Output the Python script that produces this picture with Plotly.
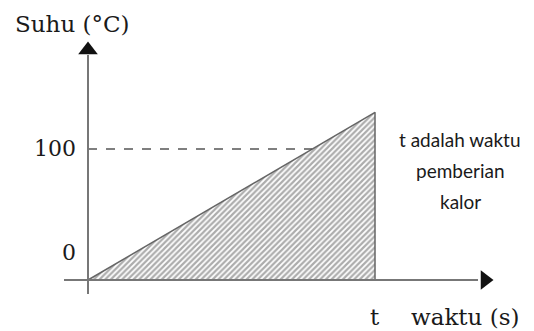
"""Temperature vs heating time: hatched triangle under a linear heating line."""

import plotly.graph_objects as go

# data (t normalised to 1)
waktu = [0, 1, 1]
suhu = [0, 128, 0]
dash_level = 100
ytick_vals = [0, 100]
ytick_text = ["0", "100"]
x_label = "waktu (s)"
y_label = "Suhu (°C)"
t_label = "t"
note_lines = ["t adalah waktu", "pemberian", "kalor"]

W, H = 534, 331
# pixel mapping: x=0 at px 88, x=1 at px 375; y=0 at py 280, y=100 at py 149
X0, XS = 88, 287
Y0, YS = 280, 1.31


def xr(px):
    return (px - X0) / XS


def yr(py):
    return (Y0 - py) / YS


serif = "DejaVu Serif, serif"
sans = "Lato, Noto Sans, sans-serif"
ink = "#1a1a1a"

fig = go.Figure()

# hatched area
fig.add_trace(go.Scatter(
    x=waktu + [waktu[0]], y=suhu + [suhu[0]],
    mode="lines", fill="toself",
    fillcolor="white",
    fillpattern=dict(shape="/", size=4, solidity=0.55, fgcolor="#5a5a5a", bgcolor="white"),
    line=dict(color="#666", width=1.5),
    hoverinfo="skip", showlegend=False,
))

# dashed reference at 100
x_hit = dash_level / suhu[1] * waktu[1]
fig.add_trace(go.Scatter(
    x=[0, x_hit], y=[dash_level, dash_level], mode="lines",
    line=dict(color="#555", width=1.3, dash="dash"),
    hoverinfo="skip", showlegend=False,
))

# axes
fig.add_trace(go.Scatter(
    x=[xr(64), xr(478)], y=[0, 0], mode="lines",
    line=dict(color="#777", width=2), hoverinfo="skip", showlegend=False,
))
fig.add_trace(go.Scatter(
    x=[0, 0], y=[yr(294), yr(55)], mode="lines",
    line=dict(color="#777", width=2), hoverinfo="skip", showlegend=False,
))
# arrow heads
fig.add_trace(go.Scatter(
    x=[xr(485)], y=[0], mode="markers",
    marker=dict(symbol="triangle-right", size=17, color="#111"),
    hoverinfo="skip", showlegend=False,
))
fig.add_trace(go.Scatter(
    x=[0], y=[yr(50)], mode="markers",
    marker=dict(symbol="triangle-up", size=17, color="#111"),
    hoverinfo="skip", showlegend=False,
))

# y tick labels (0 sits a bit above the axis in the original)
tick_py = {0: 252, 100: 148}
for v, txt in zip(ytick_vals, ytick_text):
    fig.add_annotation(x=xr(78), y=yr(tick_py[v]), text=txt, showarrow=False,
                       xanchor="right", yanchor="middle",
                       font=dict(family=serif, size=22, color=ink))

fig.add_annotation(x=xr(13), y=yr(24), text=y_label, showarrow=False,
                   xanchor="left", yanchor="middle",
                   font=dict(family=serif, size=23, color=ink))
fig.add_annotation(x=waktu[1], y=yr(317), text=t_label, showarrow=False,
                   xanchor="center", yanchor="middle",
                   font=dict(family=serif, size=23, color=ink))
fig.add_annotation(x=xr(409), y=yr(317), text=x_label, showarrow=False,
                   xanchor="left", yanchor="middle",
                   font=dict(family=serif, size=23, color=ink))
for i, line in enumerate(note_lines):
    fig.add_annotation(x=xr(460), y=yr(139 + 31 * i), text=line,
                       showarrow=False, xanchor="center", yanchor="middle",
                       font=dict(family=sans, size=19, color=ink))

fig.update_xaxes(visible=False, range=[xr(0), xr(W)], fixedrange=True)
fig.update_yaxes(visible=False, range=[yr(H), yr(0)], fixedrange=True)
fig.update_layout(
    width=W, height=H,
    margin=dict(l=0, r=0, t=0, b=0),
    plot_bgcolor="white", paper_bgcolor="white",
)

# drop the default 8px body margin so the figure fills the window
fig.write_html("out.html", config={"displayModeBar": False},
               post_script="document.body.style.margin='0';")
